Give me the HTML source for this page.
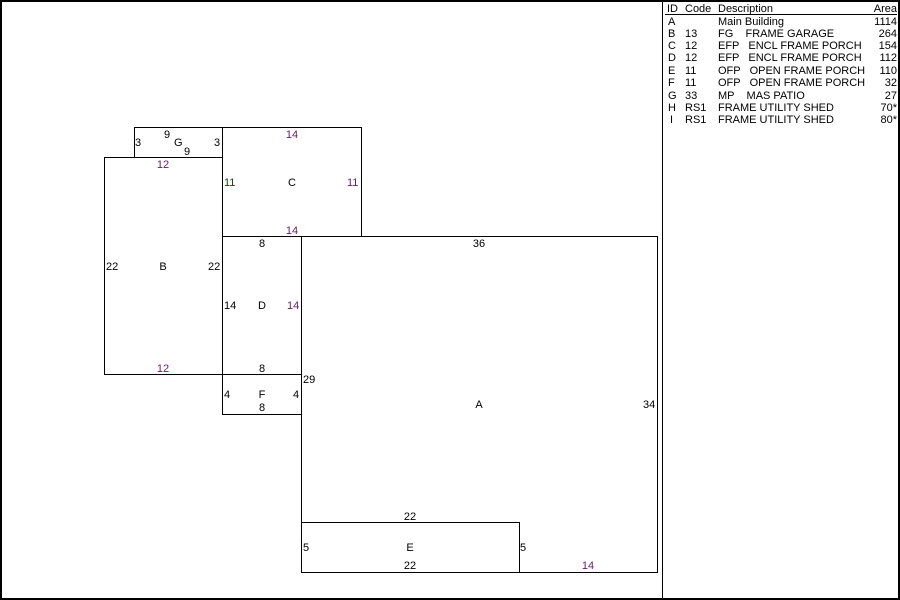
<!DOCTYPE html>
<html><head><style>
html,body{margin:0;padding:0;background:#fff;}
svg{display:block;}
text{font-family:"Liberation Sans",Arial,sans-serif;font-size:11px;white-space:pre;}
</style></head><body>
<svg width="900" height="600" xmlns="http://www.w3.org/2000/svg">
<rect x="1" y="1" width="898" height="598" fill="#fff" stroke="#000" stroke-width="2"/>
<line x1="662.5" y1="0" x2="662.5" y2="600" stroke="#000"/>
<line x1="665" y1="14.5" x2="897" y2="14.5" stroke="#000"/>
<g fill="#000">
<text x="667" y="12">ID</text><text x="685" y="12">Code</text><text x="718" y="12">Description</text><text x="897" y="12" text-anchor="end">Area</text>
<text x="668" y="25">A</text><text x="718" y="25">Main Building</text><text x="897" y="25" text-anchor="end">1114</text>
<text x="668" y="37">B</text><text x="685" y="37">13</text><text x="718" y="37" xml:space="preserve">FG    FRAME GARAGE</text><text x="897" y="37" text-anchor="end">264</text>
<text x="668" y="49">C</text><text x="685" y="49">12</text><text x="718" y="49" xml:space="preserve">EFP   ENCL FRAME PORCH</text><text x="897" y="49" text-anchor="end">154</text>
<text x="668" y="61">D</text><text x="685" y="61">12</text><text x="718" y="61" xml:space="preserve">EFP   ENCL FRAME PORCH</text><text x="897" y="61" text-anchor="end">112</text>
<text x="668" y="74">E</text><text x="685" y="74">11</text><text x="718" y="74" xml:space="preserve">OFP   OPEN FRAME PORCH</text><text x="897" y="74" text-anchor="end">110</text>
<text x="668" y="86">F</text><text x="685" y="86">11</text><text x="718" y="86" xml:space="preserve">OFP   OPEN FRAME PORCH</text><text x="897" y="86" text-anchor="end">32</text>
<text x="668" y="99">G</text><text x="685" y="99">33</text><text x="718" y="99" xml:space="preserve">MP    MAS PATIO</text><text x="897" y="99" text-anchor="end">27</text>
<text x="668" y="111">H</text><text x="685" y="111">RS1</text><text x="718" y="111">FRAME UTILITY SHED</text><text x="897" y="111" text-anchor="end">70*</text>
<text x="670" y="123">I</text><text x="685" y="123">RS1</text><text x="718" y="123">FRAME UTILITY SHED</text><text x="897" y="123" text-anchor="end">80*</text>
</g>
<g fill="none" stroke="#000" stroke-width="1">
<rect x="134.5" y="127.5" width="88" height="30"/>
<rect x="104.5" y="157.5" width="118" height="217"/>
<rect x="222.5" y="127.5" width="139" height="109"/>
<rect x="222.5" y="236.5" width="79" height="138"/>
<rect x="222.5" y="374.5" width="79" height="40"/>
<rect x="301.5" y="236.5" width="356" height="336"/>
<rect x="301.5" y="522.5" width="218" height="50"/>
</g>
<g fill="#000">
<text x="164" y="138">9</text><text x="174" y="146">G</text><text x="184" y="155">9</text>
<text x="135" y="146">3</text><text x="214" y="146">3</text>
<text x="163" y="168" fill="#6a1a6a" text-anchor="middle">12</text>
<text x="106" y="270">22</text><text x="163" y="270" text-anchor="middle">B</text><text x="208" y="270">22</text>
<text x="163" y="372" fill="#6a1a6a" text-anchor="middle">12</text>
<text x="292" y="138" fill="#6a1a6a" text-anchor="middle">14</text>
<text x="224" y="186" fill="#104a10">11</text><text x="292" y="186" text-anchor="middle">C</text><text x="347" y="186" fill="#6a1a6a">11</text>
<text x="292" y="234" fill="#6a1a6a" text-anchor="middle">14</text>
<text x="262" y="247" text-anchor="middle">8</text>
<text x="224" y="309">14</text><text x="262" y="309" text-anchor="middle">D</text><text x="287" y="309" fill="#6a1a6a">14</text>
<text x="262" y="372" text-anchor="middle">8</text>
<text x="303" y="383">29</text>
<text x="224" y="398">4</text><text x="262" y="398" text-anchor="middle">F</text><text x="293" y="398">4</text>
<text x="262" y="411" text-anchor="middle">8</text>
<text x="479" y="247" text-anchor="middle">36</text>
<text x="479" y="408" text-anchor="middle">A</text>
<text x="643" y="408">34</text>
<text x="410" y="520" text-anchor="middle">22</text>
<text x="303" y="551">5</text><text x="410" y="551" text-anchor="middle">E</text><text x="520" y="551">5</text>
<text x="410" y="569" text-anchor="middle">22</text>
<text x="588" y="569" fill="#6a1a6a" text-anchor="middle">14</text>
</g>
</svg>
</body></html>
